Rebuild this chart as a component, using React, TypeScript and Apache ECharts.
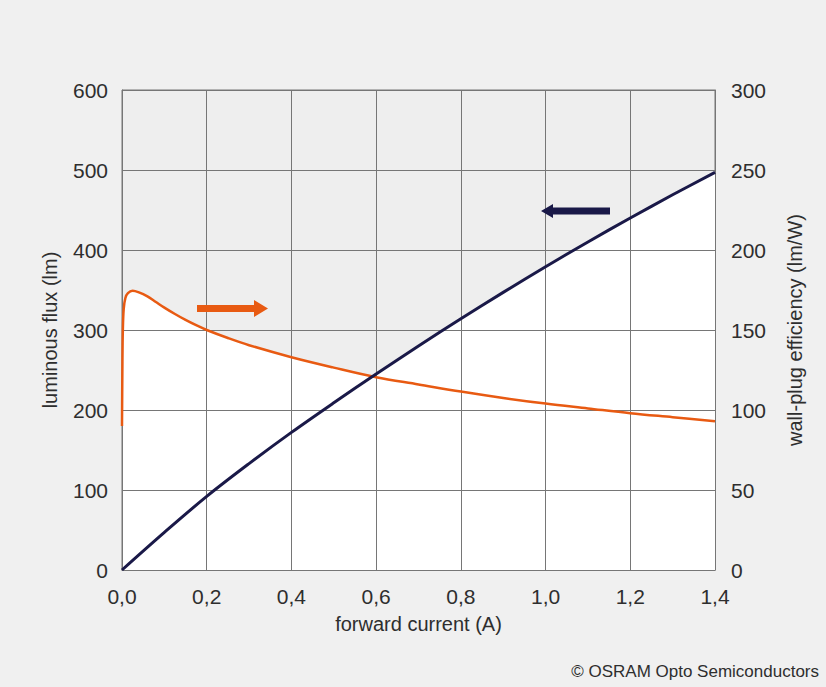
import React, { useEffect, useRef } from "react";
import * as echarts from "echarts";

// forward current (A) vs luminous flux (lm), left axis
const fluxCurrent = [0, 0.1, 0.2, 0.3, 0.4, 0.5, 0.6, 0.7, 0.8, 0.9, 1.0, 1.1, 1.2, 1.3, 1.4];
const fluxValues = [0, 47, 92, 133, 172, 209, 245, 280, 314, 347, 379, 410, 440, 469, 497];

// forward current (A) vs wall-plug efficiency (lm/W), right axis
const effCurrent = [0, 0.001, 0.002, 0.004, 0.008, 0.014, 0.025, 0.04, 0.06, 0.08, 0.1, 0.125, 0.15, 0.175, 0.2, 0.25, 0.3, 0.4, 0.5, 0.6, 0.7, 0.8, 0.9, 1.0, 1.1, 1.2, 1.3, 1.4];
const effValues = [90, 130, 150, 163, 170, 173, 174.5, 173.5, 171, 167.5, 164, 160, 156.3, 153, 150, 145, 140.5, 133, 126.5, 120.5, 116, 111.5, 107.5, 104, 101, 98, 95.5, 93];

const xTicks = { min: 0, max: 1.4, interval: 0.2 };
const leftTicks = { min: 0, max: 600, interval: 100 };
const rightTicks = { min: 0, max: 300, interval: 50 };

const xName = "forward current (A)";
const leftName = "luminous flux (lm)";
const rightName = "wall-plug efficiency (lm/W)";
const credit = "© OSRAM Opto Semiconductors";

const NAVY = "#1a1948";
const ORANGE = "#e85a12";
const FONT = "Liberation Sans, Arial, sans-serif";
const TEXT = "#2e2e2e";

export default function App() {
  const ref = useRef<HTMLDivElement>(null);
  useEffect(() => {
    if (!ref.current) return;
    const chart = echarts.init(ref.current, null, { renderer: "svg" });
    const flux = fluxCurrent.map((x, i) => [x, fluxValues[i]]);
    const eff = effCurrent.map((x, i) => [x, effValues[i]]);
    const gridColor = "#767676";
    const lineCommon = { smooth: 0.35, showSymbol: false };
    chart.setOption({
      animation: false,
      backgroundColor: "#f0f0f0",
      textStyle: { fontFamily: FONT },
      grid: {
        left: 122,
        right: 111,
        top: 90,
        bottom: 117,
        show: true,
        backgroundColor: "#eeeeee",
        borderColor: gridColor,
        borderWidth: 1,
      },
      xAxis: {
        type: "value",
        ...xTicks,
        z: 5,
        name: xName,
        nameLocation: "middle",
        nameGap: 44,
        nameTextStyle: { fontSize: 20, color: TEXT, fontFamily: FONT },
        axisLine: { show: true, lineStyle: { color: gridColor } },
        axisTick: { show: false },
        axisLabel: {
          fontSize: 21,
          color: TEXT,
          margin: 16,
          fontFamily: FONT,
          formatter: (v: number) => v.toFixed(1).replace(".", ","),
        },
        splitLine: { show: true, lineStyle: { color: gridColor, width: 1 } },
      },
      yAxis: [
        {
          type: "value",
          ...leftTicks,
          z: 5,
          name: leftName,
          nameLocation: "middle",
          nameGap: 62,
          nameTextStyle: { fontSize: 20, color: TEXT, fontFamily: FONT },
          axisLine: { show: true, lineStyle: { color: gridColor } },
          axisTick: { show: false },
          axisLabel: { fontSize: 21, color: TEXT, margin: 14, fontFamily: FONT },
          splitLine: { show: true, lineStyle: { color: gridColor, width: 1 } },
        },
        {
          type: "value",
          ...rightTicks,
          z: 5,
          position: "right",
          name: rightName,
          nameLocation: "middle",
          nameGap: 70,
          nameTextStyle: { fontSize: 20, color: TEXT, fontFamily: FONT },
          axisLine: { show: true, lineStyle: { color: gridColor } },
          axisTick: { show: false },
          axisLabel: { fontSize: 21, color: TEXT, margin: 16, fontFamily: FONT },
          splitLine: { show: false },
        },
      ],
      series: [
        {
          type: "line",
          data: flux,
          yAxisIndex: 0,
          z: 1,
          ...lineCommon,
          lineStyle: { width: 0, opacity: 0 },
          areaStyle: { color: "#ffffff", opacity: 1 },
          silent: true,
        },
        {
          type: "line",
          data: eff,
          yAxisIndex: 1,
          z: 1,
          ...lineCommon,
          lineStyle: { width: 0, opacity: 0 },
          areaStyle: { color: "#ffffff", opacity: 1 },
          silent: true,
        },
        {
          type: "line",
          data: eff,
          yAxisIndex: 1,
          z: 10,
          ...lineCommon,
          lineStyle: { width: 2.5, color: ORANGE },
        },
        {
          type: "line",
          data: flux,
          yAxisIndex: 0,
          z: 11,
          ...lineCommon,
          lineStyle: { width: 3, color: NAVY },
        },
      ],
      graphic: [
        {
          type: "polygon",
          z: 20,
          shape: {
            points: [
              [197, 305], [254, 305], [254, 300], [268, 308.5],
              [254, 317], [254, 312], [197, 312],
            ],
          },
          style: { fill: ORANGE },
        },
        {
          type: "polygon",
          z: 20,
          shape: {
            points: [
              [610, 207.5], [553, 207.5], [553, 204], [541, 211],
              [553, 218], [553, 214.5], [610, 214.5],
            ],
          },
          style: { fill: NAVY },
        },
        {
          type: "text",
          z: 20,
          x: 819,
          y: 671,
          style: {
            text: credit,
            fontSize: 17,
            fontFamily: FONT,
            fill: TEXT,
            textAlign: "right",
            textVerticalAlign: "middle",
          },
        },
      ],
    });
    return () => chart.dispose();
  }, []);
  return (
    <div
      ref={ref}
      style={{ position: "fixed", left: 0, top: 0, width: 826, height: 687 }}
    />
  );
}
